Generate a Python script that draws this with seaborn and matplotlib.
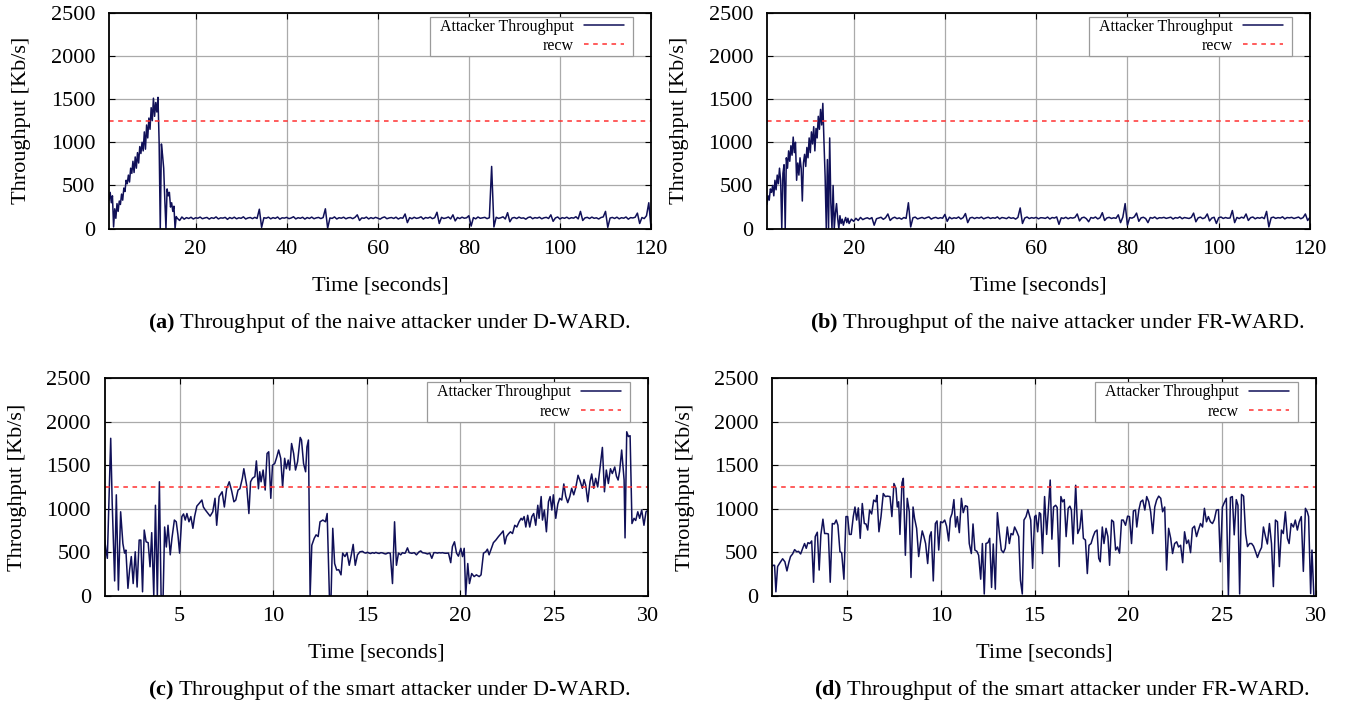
import numpy as np
import matplotlib
matplotlib.use('Agg')
import matplotlib.pyplot as plt
from matplotlib.patches import Rectangle
import seaborn as sns

# ================= data =================
recw = 1250

# (a) naive attacker, D-WARD: 0.25 s samples until 16 s, 0.5 s afterwards
a_time = np.concatenate([np.arange(1, 16, 0.25), np.arange(16, 120.5, 0.5)])
a_ramp = [330, 420, 300, 380, 20, 230, 120, 290, 200, 320, 280, 400, 330, 470, 430, 560,
          520, 620, 540, 700, 640, 780, 650, 830, 700, 880, 760, 950, 870, 1000, 900, 1120,
          920, 1200, 1050, 1280, 1150, 1400, 1250, 1510, 1300, 1460, 1350, 1520, 1000, 0,
          980, 850, 700, 330, 0, 460, 380, 420, 250, 300, 200, 260, 0, 140]
a_flat = [120, 95, 135, 110, 128, 118, 132, 112, 126, 121, 134, 115, 124, 130, 111, 127, 119, 136, 113, 125,
          122, 131, 108, 129, 117, 133, 114, 126, 120, 137, 112, 124, 129, 116, 131, 118, 225, 15, 127, 121,
          133, 114, 128, 119, 135, 110, 126, 122, 131, 116, 124, 138, 113, 127, 120, 132, 111, 129, 118, 134,
          115, 125, 130, 117, 128, 230, 5, 124, 119, 136, 112, 127, 121, 133, 114, 126, 129, 116, 131, 160,
          95, 125, 120, 134, 113, 128, 117, 131, 122, 110, 127, 136, 115, 124, 129, 118, 133, 112, 126, 121,
          170, 70, 128, 115, 132, 119, 125, 137, 111, 129, 122, 134, 116, 127, 190, 60, 131, 118, 124, 135,
          113, 160, 90, 129, 117, 133, 121, 126, 150, 30, 128, 114, 135, 120, 125, 131, 116, 127, 720, 20,
          132, 119, 126, 137, 112, 185, 80, 123, 130, 117, 134, 121, 125, 110, 129, 136, 115, 128, 122, 133,
          114, 126, 131, 118, 160, 85, 124, 135, 111, 128, 120, 133, 116, 127, 122, 138, 113, 200, 95, 125,
          131, 117, 134, 120, 126, 112, 129, 136, 200, 15, 123, 130, 118, 133, 114, 127, 121, 135, 110, 128,
          124, 132, 180, 60, 129, 117, 150, 300, 0]
a_tput = a_ramp + a_flat

# (b) naive attacker, FR-WARD
b_time = np.concatenate([np.arange(1, 19, 0.25), np.arange(19, 120.5, 0.5)])
b_ramp = [280, 380, 330, 460, 420, 500, 380, 560, 450, 620, 520, 700, 560, 0, 640, 740,
          0, 820, 700, 900, 780, 960, 850, 1060, 880, 1000, 560, 760, 620, 820, 700, 320,
          760, 860, 720, 940, 820, 1050, 880, 1120, 980, 1180, 900, 1160, 1050, 1300, 1150, 1380,
          1200, 1450, 1000, 600, 0, 800, 0, 1050, 300, 0, 500, 0, 180, 290,
          120, 0, 150, 60, 110, 40, 90, 130, 70, 120]
b_flat = [60, 110, 85, 120, 95, 130, 105, 118, 126, 112, 128, 40, 115, 124, 132, 108, 127, 170, 95, 121,
          133, 116, 125, 110, 129, 119, 300, 20, 126, 134, 113, 122, 130, 117, 128, 136, 111, 124, 131, 118,
          127, 121, 165, 85, 133, 115, 126, 120, 135, 112, 128, 175, 70, 124, 131, 117, 129, 122, 134, 114,
          125, 132, 118, 127, 121, 136, 113, 129, 124, 116, 133, 120, 126, 111, 130, 240, 60, 123, 135, 117,
          128, 121, 131, 114, 127, 125, 119, 134, 112, 129, 123, 136, 50, 126, 118, 132, 115, 128, 122, 130,
          170, 90, 125, 133, 116, 80, 129, 121, 135, 113, 127, 185, 95, 124, 131, 118, 126, 120, 160, 70,
          134, 290, 40, 128, 122, 136, 180, 85, 125, 132, 117, 70, 129, 121, 135, 114, 127, 124, 131, 119,
          126, 133, 112, 128, 122, 136, 115, 129, 124, 118, 131, 180, 80, 125, 134, 116, 127, 170, 90, 123,
          132, 60, 126, 135, 118, 129, 121, 124, 210, 70, 130, 117, 133, 122, 170, 95, 127, 135, 114, 128,
          121, 132, 116, 200, 20, 126, 134, 119, 128, 123, 137, 113, 129, 125, 131, 118, 126, 134, 115, 128,
          170, 95, 130]
b_tput = b_ramp + b_flat

# (c) smart attacker, D-WARD
c_time = [1.00, 1.07, 1.14, 1.23, 1.32, 1.40, 1.47, 1.53, 1.62, 1.73, 1.85, 1.97, 2.06, 2.13, 2.24, 2.33,
          2.42, 2.52, 2.63, 2.73, 2.84, 2.93, 3.02, 3.11, 3.21, 3.32, 3.42, 3.51, 3.62, 3.71, 3.81, 3.92,
          4.01, 4.12, 4.20, 4.29, 4.38, 4.50, 4.59, 4.72, 4.82, 4.91, 5.00, 5.12, 5.21, 5.30, 5.39, 5.50,
          5.60, 5.71, 5.80, 5.92, 6.04, 6.19, 6.27, 6.36, 6.45, 6.54, 6.63, 6.77, 6.89, 6.98, 7.11, 7.27,
          7.39, 7.51, 7.65, 7.78, 7.90, 8.00, 8.12, 8.22, 8.35, 8.43, 8.58, 8.70, 8.79, 8.89, 9.02, 9.10,
          9.21, 9.28, 9.35, 9.46, 9.57, 9.67, 9.76, 9.87, 9.96, 10.08, 10.17, 10.29, 10.40, 10.50, 10.61, 10.70,
          10.80, 10.88, 10.98, 11.09, 11.19, 11.30, 11.44, 11.51, 11.62, 11.73, 11.80, 11.88, 11.97, 12.06, 12.19, 12.29,
          12.40, 12.50, 12.65, 12.79, 12.88, 13.00, 13.09, 13.18, 13.28, 13.39, 13.50, 13.62, 13.71, 13.83, 13.94, 14.06,
          14.17, 14.27, 14.38, 14.50, 14.63, 14.77, 14.86, 14.95, 15.03, 15.12, 15.20, 15.30, 15.40, 15.48, 15.57, 15.66,
          15.75, 15.84, 15.93, 16.01, 16.14, 16.25, 16.37, 16.48, 16.58, 16.69, 16.81, 16.90, 17.00, 17.05, 17.17, 17.26,
          17.40, 17.53, 17.65, 17.79, 17.88, 17.97, 18.11, 18.24, 18.36, 18.47, 18.58, 18.68, 18.77, 18.86, 18.95, 19.04,
          19.13, 19.22, 19.36, 19.48, 19.57, 19.68, 19.79, 19.89, 20.02, 20.11, 20.20, 20.28, 20.39, 20.48, 20.60, 20.73,
          20.85, 21.00, 21.10, 21.23, 21.35, 21.44, 21.53, 21.65, 21.76, 21.89, 22.03, 22.17, 22.28, 22.37, 22.46, 22.56,
          22.67, 22.78, 22.90, 23.01, 23.13, 23.24, 23.31, 23.40, 23.49, 23.59, 23.70, 23.81, 23.91, 24.02, 24.13, 24.20,
          24.31, 24.38, 24.48, 24.59, 24.70, 24.79, 24.88, 24.96, 25.09, 25.20, 25.30, 25.41, 25.52, 25.62, 25.73, 25.84,
          25.94, 26.05, 26.16, 26.28, 26.39, 26.51, 26.60, 26.69, 26.80, 26.92, 27.01, 27.12, 27.22, 27.33, 27.44, 27.58,
          27.69, 27.79, 27.90, 28.01, 28.11, 28.24, 28.33, 28.42, 28.50, 28.61, 28.74, 28.79, 28.88, 28.97, 29.06, 29.16,
          29.27, 29.36, 29.47, 29.57, 29.68, 29.80, 29.91, 30.00]
c_tput = [640, 520, 430, 1100, 1810, 1060, 600, 170, 1160, 65, 965, 600, 490, 525, 85, 300,
          450, 140, 505, 100, 640, 640, 45, 755, 620, 610, 333, 725, 0, 1040, 0, 1310,
          0, 0, 790, 560, 810, 470, 660, 870, 850, 700, 490, 910, 940, 870, 945, 850,
          910, 775, 910, 1030, 1060, 1100, 1020, 990, 965, 940, 915, 965, 1120, 810, 1140, 1195,
          1020, 1230, 1310, 1205, 1080, 1100, 1215, 1230, 1350, 1460, 1270, 945, 1310, 1350, 1370, 1550,
          1230, 1425, 1310, 1445, 1215, 1635, 1655, 1120, 1500, 1520, 1580, 1675, 1580, 1250, 1580, 1460,
          1560, 1445, 1750, 1635, 1445, 1540, 1820, 1790, 1520, 1425, 1710, 1790, 0, 580, 660, 700,
          680, 850, 870, 850, 945, 0, 0, 775, 370, 295, 300, 240, 490, 450, 495, 350,
          470, 590, 350, 470, 505, 510, 495, 490, 500, 490, 485, 495, 488, 498, 490, 486,
          495, 492, 484, 480, 493, 488, 140, 850, 350, 490, 470, 495, 488, 490, 550, 495,
          488, 495, 470, 505, 515, 495, 490, 480, 490, 430, 495, 495, 490, 495, 492, 495,
          490, 488, 490, 380, 565, 620, 490, 455, 545, 450, 545, 0, 370, 140, 255, 220,
          240, 220, 240, 490, 505, 535, 470, 545, 610, 640, 680, 715, 745, 595, 680, 710,
          735, 715, 810, 790, 850, 890, 870, 910, 790, 925, 790, 910, 945, 810, 1040, 890,
          1140, 870, 985, 735, 1080, 1140, 985, 1160, 890, 1055, 1120, 1100, 1285, 1145, 1070, 1140,
          1235, 1160, 1245, 1385, 1320, 1235, 1335, 1270, 1080, 1310, 1400, 1235, 1350, 1250, 1445, 1705,
          1195, 1445, 1290, 1460, 1405, 1480, 1375, 1330, 1430, 1675, 1330, 665, 1885, 1830, 1840, 830,
          890, 865, 965, 890, 985, 810, 965, 980]

# (d) smart attacker, FR-WARD
d_time = [1.00, 1.05, 1.12, 1.19, 1.28, 1.41, 1.55, 1.67, 1.78, 1.89, 1.97, 2.08, 2.19, 2.30, 2.40, 2.51,
          2.62, 2.72, 2.81, 2.90, 3.00, 3.10, 3.20, 3.29, 3.40, 3.50, 3.59, 3.70, 3.79, 3.90, 3.99, 4.09,
          4.20, 4.31, 4.41, 4.50, 4.61, 4.70, 4.82, 4.93, 5.02, 5.11, 5.21, 5.32, 5.41, 5.50, 5.59, 5.69,
          5.80, 5.91, 6.00, 6.09, 6.19, 6.30, 6.41, 6.52, 6.58, 6.69, 6.80, 6.92, 7.03, 7.14, 7.28, 7.38,
          7.49, 7.60, 7.67, 7.74, 7.81, 7.92, 7.99, 8.10, 8.20, 8.31, 8.40, 8.51, 8.59, 8.70, 8.81, 8.90,
          9.00, 9.09, 9.18, 9.29, 9.40, 9.48, 9.59, 9.70, 9.79, 9.88, 9.98, 10.09, 10.20, 10.30, 10.41, 10.50,
          10.59, 10.69, 10.78, 10.87, 10.98, 11.09, 11.19, 11.30, 11.41, 11.51, 11.62, 11.71, 11.81, 11.92, 12.01, 12.12,
          12.21, 12.31, 12.40, 12.51, 12.60, 12.70, 12.79, 12.90, 13.01, 13.11, 13.22, 13.33, 13.43, 13.54, 13.65, 13.74,
          13.84, 13.93, 14.04, 14.15, 14.24, 14.34, 14.43, 14.54, 14.64, 14.79, 14.89, 15.00, 15.07, 15.16, 15.25, 15.32,
          15.42, 15.53, 15.64, 15.74, 15.83, 15.92, 16.01, 16.12, 16.20, 16.31, 16.40, 16.49, 16.58, 16.68, 16.79, 16.88,
          16.96, 17.05, 17.19, 17.30, 17.41, 17.51, 17.60, 17.71, 17.81, 17.90, 18.01, 18.12, 18.22, 18.33, 18.42, 18.50,
          18.61, 18.70, 18.81, 18.91, 19.00, 19.11, 19.21, 19.32, 19.42, 19.53, 19.64, 19.73, 19.85, 19.96, 20.06, 20.17,
          20.27, 20.38, 20.45, 20.56, 20.66, 20.77, 20.88, 20.98, 21.09, 21.19, 21.30, 21.41, 21.51, 21.62, 21.73, 21.83,
          21.94, 22.04, 22.15, 22.26, 22.36, 22.47, 22.58, 22.68, 22.79, 22.90, 23.00, 23.11, 23.21, 23.32, 23.42, 23.53,
          23.64, 23.74, 23.85, 23.96, 24.06, 24.17, 24.27, 24.38, 24.49, 24.59, 24.70, 24.81, 24.91, 25.02, 25.12, 25.23,
          25.34, 25.45, 25.55, 25.65, 25.76, 25.85, 25.94, 26.04, 26.15, 26.26, 26.36, 26.47, 26.58, 26.68, 26.79, 26.89,
          27.00, 27.11, 27.21, 27.32, 27.42, 27.53, 27.64, 27.74, 27.85, 27.96, 28.06, 28.17, 28.27, 28.38, 28.49, 28.58,
          28.69, 28.81, 28.91, 29.02, 29.12, 29.23, 29.34, 29.45, 29.55, 29.62, 29.73, 29.80, 29.90]
d_tput = [340, 350, 350, 45, 335, 380, 425, 390, 285, 390, 450, 480, 530, 505, 510, 480,
          545, 600, 545, 610, 600, 630, 155, 680, 730, 295, 700, 880, 715, 715, 710, 155,
          830, 825, 870, 810, 505, 495, 190, 910, 910, 705, 705, 910, 1020, 870, 1010, 660,
          1060, 830, 825, 755, 985, 940, 1100, 1080, 1155, 735, 910, 1175, 1140, 1145, 1140, 910,
          1290, 1235, 1020, 1080, 705, 1300, 1350, 465, 1120, 965, 210, 1020, 890, 775, 450, 600,
          745, 680, 600, 370, 685, 735, 170, 830, 860, 525, 850, 840, 870, 800, 630, 890,
          945, 1105, 790, 910, 725, 1120, 955, 1035, 1025, 600, 485, 825, 525, 510, 465, 190,
          600, 20, 600, 610, 660, 95, 595, 75, 955, 735, 525, 495, 545, 790, 600, 715,
          700, 790, 740, 680, 180, 20, 870, 910, 990, 870, 315, 910, 925, 735, 955, 940,
          485, 1140, 705, 1020, 1330, 650, 1020, 1040, 1015, 335, 1140, 1080, 1105, 680, 1005, 1030,
          985, 595, 1270, 715, 775, 985, 660, 640, 255, 580, 600, 680, 735, 755, 430, 390,
          790, 600, 775, 680, 350, 870, 850, 525, 560, 490, 870, 870, 810, 915, 910, 600,
          975, 985, 790, 985, 1080, 1100, 985, 1140, 1080, 965, 715, 1020, 1100, 1145, 1120, 965,
          1020, 295, 775, 660, 485, 600, 620, 560, 580, 380, 735, 600, 640, 495, 775, 800,
          680, 755, 830, 790, 1005, 850, 910, 850, 830, 875, 985, 990, 390, 1020, 1070, 1120,
          5, 1130, 1140, 700, 1105, 1040, 20, 1165, 1145, 710, 565, 600, 600, 570, 505, 440,
          505, 555, 790, 680, 595, 830, 600, 105, 870, 850, 335, 755, 715, 965, 660, 600,
          830, 790, 870, 755, 850, 910, 280, 1005, 965, 910, 25, 525, 5]

a_ticks = [20, 40, 60, 80, 100, 120]
c_ticks = [5, 10, 15, 20, 25, 30]
y_ticks = [0, 500, 1000, 1500, 2000, 2500]

captions = [
    r'$\mathbf{(a)}$ Throughput of the naive attacker under D-WARD.',
    r'$\mathbf{(b)}$ Throughput of the naive attacker under FR-WARD.',
    r'$\mathbf{(c)}$ Throughput of the smart attacker under D-WARD.',
    r'$\mathbf{(d)}$ Throughput of the smart attacker under FR-WARD.',
]

# ================= style =================
sns.set_style('whitegrid')
plt.rcParams['font.family'] = ['Liberation Serif', 'DejaVu Serif']
plt.rcParams['mathtext.fontset'] = 'custom'
plt.rcParams['mathtext.rm'] = 'Liberation Serif'
plt.rcParams['mathtext.bf'] = 'Liberation Serif:bold'
for key in ['text.color', 'axes.labelcolor', 'xtick.color', 'ytick.color']:
    plt.rcParams[key] = 'black'

navy = '#101058'
red = '#ff3030'

fig = plt.figure(figsize=(13.46, 7.06), dpi=100)

panels = [
    ([0.0810, 0.6761, 0.4027, 0.3060], a_time, a_tput, (1, 120), a_ticks),
    ([0.5698, 0.6761, 0.4034, 0.3060], b_time, b_tput, (1, 120), a_ticks),
    ([0.0778, 0.1562, 0.4034, 0.3080], c_time, c_tput, (1, 30), c_ticks),
    ([0.5738, 0.1562, 0.4037, 0.3080], d_time, d_tput, (1, 30), c_ticks),
]

legends = []
for rect, t, v, xlim, xticks in panels:
    ax = fig.add_axes(rect)
    sns.lineplot(x=np.asarray(t), y=np.asarray(v), ax=ax, color=navy, linewidth=1.1,
                 estimator=None, sort=False, label='Attacker Throughput')
    ax.axhline(recw, color=red, linestyle=(0, (3, 3)), linewidth=1.1, label='recw')

    ax.set_xlim(*xlim)
    ax.set_ylim(0, 2500)
    ax.set_xticks(xticks)
    ax.set_yticks(y_ticks)
    ax.grid(True, color='#aaaaaa', linewidth=0.9)
    for sp in ax.spines.values():
        sp.set_color('black')
        sp.set_linewidth(1.3)
    ax.tick_params(axis='both', direction='in', length=4, width=0.8, labelsize=16,
                   top=True, right=True, bottom=True, left=True)
    ax.tick_params(axis='y', pad=10)
    ax.tick_params(axis='x', pad=8)
    ax.set_xlabel('Time [seconds]', fontsize=16, labelpad=13)
    ax.set_ylabel('Throughput [Kb/s]', fontsize=16, labelpad=14)

    # gnuplot-style key: text right-aligned, sample line on the right
    leg = ax.legend(loc='upper right', bbox_to_anchor=(0.950, 0.972), borderaxespad=0,
                    markerfirst=False, fontsize=11.5, frameon=False,
                    handlelength=2.5, handletextpad=0.62, borderpad=0, labelspacing=0.2)
    leg.set_zorder(6)
    legends.append((ax, leg))

# white box behind each key, padded wider than tall like the original
fig.canvas.draw()
renderer = fig.canvas.get_renderer()
inv = fig.transFigure.inverted()
for ax, leg in legends:
    bb = leg.get_window_extent(renderer)
    (x0, y0) = inv.transform((bb.x0 - 10, bb.y0 - 2))
    (x1, y1) = inv.transform((bb.x1 + 9, bb.y1 + 2))
    box = Rectangle((x0, y0), x1 - x0, y1 - y0, transform=fig.transFigure,
                    facecolor='white', edgecolor='#9a9a9a', linewidth=0.9,
                    zorder=5, clip_on=False)
    ax.add_patch(box)

cap_pos = [(0.110, 0.5425), (0.6018, 0.5425), (0.110, 0.0227), (0.6048, 0.0227)]
for (x, y), txt in zip(cap_pos, captions):
    fig.text(x, y, txt, fontsize=16, ha='left', va='center')

fig.savefig('out.png', dpi=100)
